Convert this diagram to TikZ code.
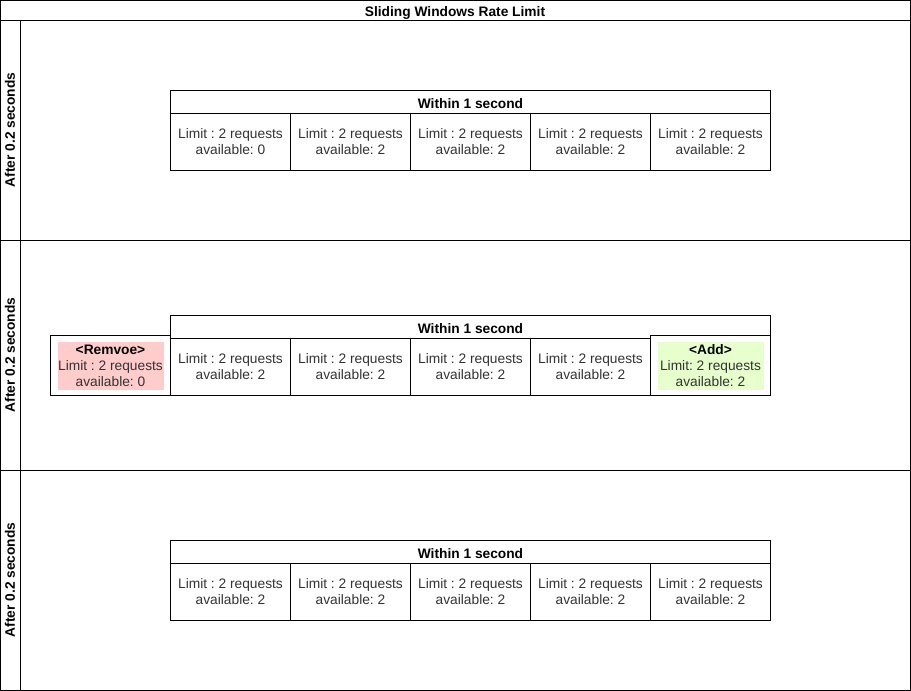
\documentclass[tikz,border=0pt]{standalone}
\usepackage{fontspec}
\setmainfont{Liberation Sans}
\frenchspacing
\definecolor{txtgrey}{HTML}{333333}
\definecolor{removefill}{HTML}{FFCCCC}
\definecolor{addfill}{HTML}{E6FFCC}
\begin{document}
\begin{tikzpicture}[x=1pt,y=-1pt,line width=1pt,
  basefont/.style={font=\fontsize{13.75}{16}\selectfont},
  boldfont/.style={font=\bfseries\fontsize{13.75}{16}\selectfont},
  cell/.style={draw,rectangle,minimum width=120pt,minimum height=57pt,anchor=north west,
    inner sep=0pt,align=center,text=txtgrey,basefont},
  head/.style={draw,rectangle,minimum width=600pt,minimum height=23pt,anchor=north west,
    inner sep=0pt,text height=13pt,text depth=0pt,boldfont},
  lanelabel/.style={rotate=90,boldfont},
  sidebox/.style={draw,fill=white,rectangle,minimum width=120pt,minimum height=60pt,
    anchor=north west,inner sep=0pt},
  tag/.style={rectangle,minimum width=106pt,minimum height=48pt,inner sep=0pt,
    align=center,text=txtgrey,basefont}]
\useasboundingbox (0,0) rectangle (911,691);

% pool frame, title bar and lanes
\draw (0.5,0.5) rectangle (910.5,690.5);
\draw (0.5,20) -- (910.5,20);
\draw (20,20) -- (20,690.5);
\draw (0.5,240) -- (910.5,240);
\draw (0.5,470) -- (910.5,470);
\node[boldfont] (title) at (455,12.5) {Sliding Windows Rate Limit};
\node[lanelabel] (lane1) at (10,130) {After 0.2 seconds};
\node[lanelabel] (lane2) at (10,355) {After 0.2 seconds};
\node[lanelabel] (lane3) at (10,580) {After 0.2 seconds};

% lane 1: window of five slots
\node[head] (h1) at (170,90) {Within 1 second};
\node[cell] (a1) at (170,113) {Limit : 2 requests\\available: 0};
\foreach \i/\x in {2/290,3/410,4/530,5/650}
  \node[cell] (a\i) at (\x,113) {Limit : 2 requests\\available: 2};

% lane 2: window slides, one slot leaves and one joins
\node[head] (h2) at (170,315) {Within 1 second};
\foreach \i/\x in {1/170,2/290,3/410,4/530}
  \node[cell] (b\i) at (\x,338) {Limit : 2 requests\\available: 2};
\node[sidebox] (remove) at (50,335) {};
\node[tag,fill=removefill] (removetag) at (remove.center)
  {\textbf{\color{black}<Remvoe>}\\Limit : 2 requests\\available: 0};
\node[sidebox] (add) at (650,335) {};
\node[tag,fill=addfill] (addtag) at (add.center)
  {\textbf{\color{black}<Add>}\\Limit: 2 requests\\available: 2};

% lane 3: window after the slide
\node[head] (h3) at (170,540) {Within 1 second};
\foreach \i/\x in {1/170,2/290,3/410,4/530,5/650}
  \node[cell] (c\i) at (\x,563) {Limit : 2 requests\\available: 2};
\end{tikzpicture}
\end{document}
